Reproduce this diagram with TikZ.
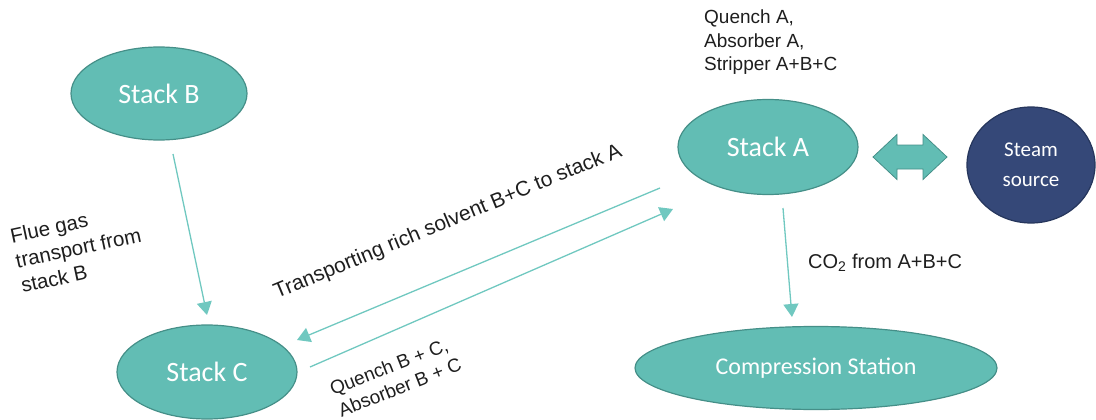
\documentclass[tikz,border=0pt]{standalone}
\usepackage{fontspec}
\setmainfont{Liberation Sans}
\newfontfamily\calibri{Carlito}
\usetikzlibrary{shapes.geometric,arrows.meta}

\definecolor{tealfill}{HTML}{62BDB4}
\definecolor{tealedge}{HTML}{458F88}
\definecolor{navyfill}{HTML}{354878}
\definecolor{navyedge}{HTML}{26365C}
\definecolor{flow}{HTML}{70C8C0}
\definecolor{labeltext}{HTML}{1E1E1E}

\tikzset{
  unit/.style={ellipse, draw=tealedge, fill=tealfill, line width=1.2pt,
    inner sep=0pt, text=white, font=\calibri\fontsize{28}{32}\selectfont},
  flowline/.style={draw=flow, line width=1.3pt,
    -{Triangle[length=13pt,width=15pt]}},
  note/.style={text=labeltext, inner sep=0pt, align=left},
  linkarrow/.style={draw=tealedge, fill=tealfill, line width=0.8pt, line join=miter},
}

\begin{document}
\begin{tikzpicture}[x=1pt,y=-1pt]
\useasboundingbox (0,0) rectangle (1096,420);

% plant units
\node[unit, minimum width=176pt, minimum height=93pt] (B) at (159,93.5) {Stack B};
\node[unit, minimum width=180pt, minimum height=95pt] (A) at (768,147) {Stack A};
\node[unit, minimum width=180pt, minimum height=94pt] (C) at (207,372) {Stack C};
\node[unit, minimum width=362pt, minimum height=83pt,
      font=\calibri\fontsize{24}{28}\selectfont] (S) at (816,368) {Compression Station};
\node[ellipse, draw=navyedge, fill=navyfill, line width=1.2pt, inner sep=0pt,
      minimum width=128pt, minimum height=116pt, text=white, align=center,
      font=\calibri\fontsize{21}{30}\selectfont] (H) at (1031,165) {Steam\\source};

% two-way steam link between Stack A and the steam source
\path[linkarrow] (873,157) -- (897,134.5) -- (897,145) -- (923,145) -- (923,134.5)
  -- (947,157) -- (923,179.5) -- (923,169) -- (897,169) -- (897,179.5) -- cycle;

% connector end points
\coordinate (bOut) at (173,154);
\coordinate (cIn1) at (207,315);
\coordinate (aOut) at (660,188);
\coordinate (cIn2) at (297,340);
\coordinate (cOut) at (310,367);
\coordinate (aIn) at (673,209);
\coordinate (aDown) at (783,208);
\coordinate (sIn) at (792,317);

\draw[flowline] (bOut) -- (cIn1);
\draw[flowline] (aOut) -- (cIn2);
\draw[flowline] (cOut) -- (aIn);
\draw[flowline] (aDown) -- (sIn);

% labels (multi-line labels are placed by the baseline of their last line)
\node[note, anchor=base west, font=\fontsize{19}{23.5}\selectfont] (qa) at (704,70.5)
  {Quench A,\\Absorber A,\\Stripper A+B+C};
\node[note, anchor=base west, font=\fontsize{20}{24}\selectfont] (co2) at (808,268)
  {CO\textsubscript{2} from A+B+C};
\node[note, anchor=base west, rotate=12, font=\fontsize{20.5}{25.5}\selectfont] (flue) at (22.6,293)
  {Flue gas\\transport from\\stack B};
\node[note, anchor=base west, rotate=22.5, font=\fontsize{21}{25}\selectfont] (rich) at (277,299)
  {Transporting rich solvent B+C to stack A};
\node[note, anchor=base west, rotate=21.5, font=\fontsize{19}{23}\selectfont] (qb) at (341.4,417.4)
  {Quench B + C,\\Absorber B + C};
\end{tikzpicture}
\end{document}
